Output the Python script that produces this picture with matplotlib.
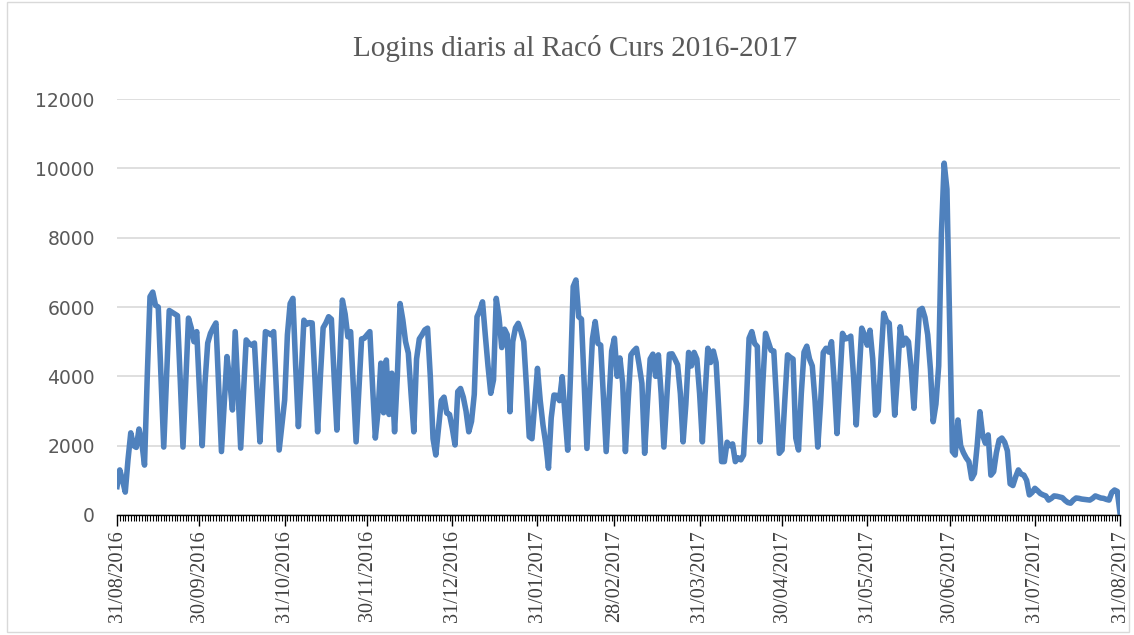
import matplotlib
matplotlib.use("Agg")
import matplotlib.pyplot as plt
import matplotlib.dates as mdates
import pandas as pd
from matplotlib.patches import Rectangle

# dies del curs: 31/08/2016 .. 31/08/2017
start_date = "2016-08-31"
end_date = "2017-08-31"

# logins diaris (llegits del gràfic), una fila per setmana (dl..dg)
logins = [
    820, 1300, 1000, 660, 1600,
    2370, 2000, 1950, 2480, 2100, 1440, 4000,
    6300, 6430, 6050, 6000, 4000, 1960, 3900,
    5900, 5850, 5800, 5750, 3900, 1960, 3800,
    5680, 5400, 5000, 5290, 3600, 2000, 3800,
    4960, 5240, 5400, 5540, 3700, 1830, 3200,
    4570, 3900, 3030, 5290, 3600, 1930, 3500,
    5050, 4950, 4900, 4960, 3500, 2110, 3700,
    5290, 5250, 5200, 5290, 3600, 1875, 2600,
    3320, 5200, 6100, 6250, 4300, 2550, 4000,
    5620, 5500, 5550, 5540, 4000, 2400, 4000,
    5400, 5540, 5720, 5650, 4000, 2450, 4300,
    6200, 5800, 5140, 5290, 3700, 2110, 3600,
    5080, 5100, 5200, 5290, 3700, 2220, 3000,
    4380, 2950, 4470, 2900, 4090, 2400, 4000,
    6100, 5630, 5000, 4670, 3500, 2400, 4500,
    5080, 5200, 5340, 5390, 4000, 2200, 1730,
    2500, 3300, 3400, 2940, 2900, 2500, 2020,
    3560, 3650, 3400, 3000, 2400, 2700, 3480,
    5720, 5900, 6150, 5200, 4300, 3510, 3900,
    6250, 5700, 4830, 5360, 5200, 2980, 5000,
    5400, 5530, 5300, 5000, 3700, 2260, 2200,
    3200, 4230, 3300, 2600, 2070, 1350, 2800,
    3460, 3450, 3300, 3990, 2900, 1870, 4000,
    6590, 6780, 5720, 5650, 3800, 1920, 3500,
    5080, 5580, 4950, 4900, 3400, 1830, 3300,
    4730, 5100, 4000, 4530, 3800, 1830, 3300,
    4620, 4730, 4810, 4330, 3800, 1780, 3200,
    4500, 4640, 4000, 4620, 3500, 1960, 3300,
    4640, 4650, 4500, 4330, 3500, 2110, 3200,
    4690, 4300, 4690, 4500, 3500, 2110, 3500,
    4810, 4400, 4730, 4400, 3000, 1540, 1540,
    2100, 2000, 2050, 1540, 1650, 1590, 1730,
    3200, 5100, 5290, 4950, 4860, 2110, 3800,
    5240, 5000, 4750, 4730, 3300, 1780, 1875,
    3300, 4620, 4550, 4500, 2220, 1875, 3500,
    4700, 4870, 4500, 4300, 3300, 1960, 3200,
    4690, 4810, 4700, 5000, 3800, 2350, 3800,
    5240, 5080, 5100, 5160, 4000, 2600, 4000,
    5390, 5200, 4900, 5330, 4500, 2880, 3000,
    4500, 5820, 5600, 5530, 4300, 2880, 4000,
    5430, 4900, 5100, 5000, 4200, 3080, 4500,
    5910, 5960, 5700, 5200, 4200, 2690, 3200,
    4300, 8130, 10150, 9400, 5500, 1830, 1730,
    2740, 2000, 1800, 1650, 1540, 1050, 1200,
    2000, 2980, 2300, 2070, 2310, 1150, 1250,
    1800, 2160, 2220, 2100, 1850, 900, 850,
    1100, 1300, 1180, 1150, 1000, 580, 650,
    770, 700, 620, 580, 550, 430, 480,
    550, 540, 520, 500, 420, 360, 340,
    430, 490, 480, 460, 450, 440, 430,
    480, 550, 520, 490, 480, 450, 430,
    650, 720, 680, 50,
]

tick_labels = ["31/08/2016", "30/09/2016", "31/10/2016", "30/11/2016",
               "31/12/2016", "31/01/2017", "28/02/2017", "31/03/2017",
               "30/04/2017", "31/05/2017", "30/06/2017", "31/07/2017",
               "31/08/2017"]

dates = pd.date_range(start_date, end_date, freq="D")
tick_dates = pd.to_datetime(tick_labels, format="%d/%m/%Y")

fig = plt.figure(figsize=(11.34, 6.35), dpi=100)
ax = fig.add_axes([0.1032, 0.189, 0.8845, 0.655])

ax.plot(dates, logins, color="#4F81BD", linewidth=4.0, solid_joinstyle="round")

ax.set_ylim(0, 12000)
ax.set_yticks(range(0, 12001, 2000))
ax.set_xlim(dates[0], dates[-1])
ax.grid(axis="y", color="#D9D9D9", linewidth=1.2)
ax.set_axisbelow(True)

ax.set_xticks(tick_dates)
ax.set_xticklabels(tick_labels, rotation=90, family="Liberation Serif",
                   fontsize=14.5, color="#404040")
ax.xaxis.set_minor_locator(mdates.DayLocator())
ax.tick_params(axis="x", which="major", length=8, width=1, color="black", pad=3)
ax.tick_params(axis="x", which="minor", length=4, width=0.8, color="black")
ax.tick_params(axis="y", length=0, labelsize=13.5, labelcolor="#595959", pad=16)

for s in ["top", "right", "left"]:
    ax.spines[s].set_visible(False)
ax.spines["bottom"].set_color("black")
ax.spines["bottom"].set_linewidth(1)

fig.text(0.507, 0.924, "Logins diaris al Racó Curs 2016-2017",
         family="Liberation Serif", fontsize=21, color="#595959",
         ha="center", va="center")

# vora del gràfic
fig.patches.append(Rectangle((0.006, 0.004), 0.99, 0.993, transform=fig.transFigure,
                             fill=False, edgecolor="#D9D9D9", linewidth=1))

fig.savefig("out.png", dpi=100)
